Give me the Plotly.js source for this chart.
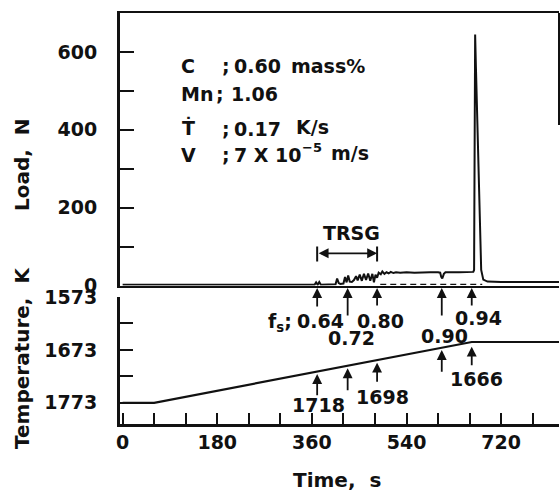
<!DOCTYPE html>
<html><head><meta charset="utf-8">
<script src="https://cdn.plot.ly/plotly-3.0.1.min.js"></script>
<style>html,body{margin:0;padding:0;background:#fff;} #chart{width:560px;height:493px;}</style>
</head><body><div id="chart"></div>
<script>
// ---- data ----
const loadTime  = [0, 365, 368, 371, 374, 377, 405, 408, 411, 414, 420, 423, 426, 429, 432, 436, 440, 444, 447, 451, 455, 459, 463, 467, 471, 475, 478, 481, 484, 487, 491, 494, 498, 502, 506, 510, 515, 520, 528, 540, 555, 570, 585, 600, 604, 606, 608, 611, 614, 640, 667, 668.5, 670.5, 672, 678, 682, 686, 694, 720, 830];
const loadValue = [2, 2, 8, 2, 9, 2, 3, 18, 6, 4, 5, 22, 8, 26, 10, 9, 14, 24, 13, 28, 12, 30, 14, 31, 12, 30, 8, 28, 20, 33, 29, 36, 30, 34, 31, 35, 32, 34, 33, 34, 33, 34, 34, 34, 33, 22, 18, 30, 34, 34, 35, 40, 645, 560, 250, 40, 15, 10, 9, 9];
const tempTime  = [0, 60, 664, 830];
const tempValue = [1773, 1773, 1658, 1658];
const dashTime  = [490, 684];
const dashLoad  = [3, 3];

const fsTimes   = [370, 428, 484, 607, 664];
const fsLabels  = ['0.64', '0.72', '0.80', '0.90', '0.94'];
const tempLabelTimes = [370, 484, 664];
const tempLabels = ['1718', '1698', '1666'];

const loadTicks = [0, 100, 200, 300, 400, 500, 600];
const loadTickText = ['0', '', '200', '', '400', '', '600'];
const tempTicks = [1573, 1623, 1673, 1723, 1773];
const tempTickText = ['1573', '', '1673', '', '1773'];
const timeTicks = [0, 60, 120, 180, 240, 300, 360, 420, 480, 540, 600, 660, 720, 780];
const timeTickText = ['0', '', '', '180', '', '', '360', '', '', '540', '', '', '720', ''];

// ---- layout helpers (pixel -> paper) ----
const L = 120, R = 1, T = 13, B = 69, W = 560, H = 493;
const PW = W - L - R, PH = H - T - B;
const PX = x => (x - L) / PW;
const PY = y => (H - B - y) / PH;

const INK = '#111';
const FONT = {family: 'DejaVu Sans', size: 19, color: INK, weight: 'bold'};
const f = (s) => Object.assign({}, FONT, s ? {size: s} : {});

const ann = [];
function txt(text, x, y, xanchor, size, extra) {
  ann.push(Object.assign({text: text, x: PX(x), y: PY(y), xref: 'paper', yref: 'paper',
    xanchor: xanchor || 'center', yanchor: 'middle', showarrow: false, font: f(size)}, extra || {}));
}

// axis titles
txt('Load,  N', 22, 165, 'center', 20, {textangle: -90});
txt('Temperature,  K', 22, 358, 'center', 20, {textangle: -90});
txt('Time,  s', 337, 480, 'center', 20);

// composition block
txt('C', 179, 66, 'left');
txt(';', 226, 66, 'center');
txt('0.60', 232, 66, 'left');
txt('mass%', 289, 66, 'left');
txt('Mn', 179, 94, 'left');
txt(';', 220, 94, 'center');
txt('1.06', 229, 94, 'left');
txt('\u1E6A', 180, 127, 'left');
txt(';', 226, 129, 'center');
txt('0.17', 232, 129, 'left');
txt('K/s', 294, 127, 'left');
txt('V', 179, 155, 'left');
txt(';', 226, 155, 'center');
txt('7 X 10', 232, 155, 'left');
txt('\u22125', 300, 147, 'left', 13);
txt('m/s', 329, 153, 'left');

// TRSG
txt('TRSG', 351, 233, 'center');

// fs labels
txt('f<sub>s</sub>;', 266, 322, 'left');
const fsLabelPos = [[320, 321], [351, 338], [380, 321], [444, 336], [478, 318]];
fsLabels.forEach((s, i) => txt(s, fsLabelPos[i][0], fsLabelPos[i][1], 'center'));
const tempLabelPos = [[318, 405], [382, 397], [476, 379]];
tempLabels.forEach((s, i) => txt(s, tempLabelPos[i][0], tempLabelPos[i][1], 'center'));

// arrows: upper (solid fraction) and lower (temperature)
const arrowStyle = {text: '', showarrow: true, arrowhead: 2, arrowsize: 1.1, arrowwidth: 1.8,
  arrowcolor: INK, standoff: 0, startstandoff: 0, ax: 0};
const upTail = [308, 317, 307, 317, 307];
const tempTip = [374, 368.3, 362.7, 350, 346.7];
const tempTail = [396.7, 391.7, 383.3, 373.3, 366.7];
fsTimes.forEach((t, i) => {
  ann.push(Object.assign({}, arrowStyle, {x: t, xref: 'x', y: PY(288), yref: 'paper', ay: upTail[i] - 288}));
  ann.push(Object.assign({}, arrowStyle, {x: t, xref: 'x', y: PY(tempTip[i]), yref: 'paper', ay: tempTail[i] - tempTip[i]}));
});
// TRSG double arrow
ann.push({text: '', showarrow: true, arrowhead: 2, arrowsize: 1.1, arrowwidth: 1.8, arrowcolor: INK,
  arrowside: 'end+start', standoff: 0, startstandoff: 0,
  x: fsTimes[2], xref: 'x2', y: PY(253.3), yref: 'paper', ax: fsTimes[0], axref: 'x2', ay: 0});

const shapes = [
  {type: 'line', xref: 'x2', yref: 'paper', x0: fsTimes[0], x1: fsTimes[0], y0: PY(246.5), y1: PY(261.5), line: {color: INK, width: 2}},
  {type: 'line', xref: 'x2', yref: 'paper', x0: fsTimes[2], x1: fsTimes[2], y0: PY(246.5), y1: PY(261.5), line: {color: INK, width: 2}},
  {type: 'line', xref: 'paper', yref: 'paper', x0: 1, x1: 1, y0: PY(125), y1: 1, line: {color: INK, width: 2}}
];

const traces = [
  {x: loadTime, y: loadValue, xaxis: 'x2', yaxis: 'y', type: 'scatter', mode: 'lines',
   line: {color: INK, width: 2}, hoverinfo: 'skip'},
  {x: dashTime, y: dashLoad, xaxis: 'x2', yaxis: 'y', type: 'scatter', mode: 'lines',
   line: {color: INK, width: 1.3, dash: '6px,4px'}, hoverinfo: 'skip'},
  {x: tempTime, y: tempValue, xaxis: 'x', yaxis: 'y2', type: 'scatter', mode: 'lines',
   line: {color: INK, width: 2.2}, hoverinfo: 'skip'}
];

const topDomain = [PY(285.5), 1];
const botDomain = [0, PY(297)];

const layout = {
  width: W, height: H,
  margin: {l: L, r: R, t: T, b: B, pad: 0},
  paper_bgcolor: '#fff', plot_bgcolor: '#fff',
  showlegend: false,
  font: FONT,
  xaxis: {domain: [0, 1], anchor: 'y2', range: [-5, 830], showgrid: false, zeroline: false,
    showline: true, linecolor: INK, linewidth: 2.5, ticks: 'inside', ticklen: 11, tickwidth: 2, tickcolor: INK,
    tickmode: 'array', tickvals: timeTicks, ticktext: timeTickText, tickfont: f(19), ticklabelstandoff: 0},
  xaxis2: {domain: [0, 1], anchor: 'y', matches: 'x', range: [-5, 830], showgrid: false, zeroline: false,
    showline: true, mirror: true, linecolor: INK, linewidth: 2.5, ticks: '', showticklabels: false},
  yaxis: {domain: topDomain, anchor: 'x2', range: [0, 700], showgrid: false, zeroline: false,
    showline: true, linecolor: INK, linewidth: 3, ticks: 'inside', ticklen: 14, tickwidth: 2, tickcolor: INK,
    tickmode: 'array', tickvals: loadTicks, ticktext: loadTickText, tickfont: f(19), ticklabelstandoff: 16},
  yaxis2: {domain: botDomain, anchor: 'x', range: [1813, 1573], showgrid: false, zeroline: false,
    showline: true, linecolor: INK, linewidth: 3, ticks: 'inside', ticklen: 13, tickwidth: 2, tickcolor: INK,
    tickmode: 'array', tickvals: tempTicks, ticktext: tempTickText, tickfont: f(19), ticklabelstandoff: 16},
  annotations: ann,
  shapes: shapes
};

Plotly.newPlot('chart', traces, layout, {displayModeBar: false, staticPlot: true});
</script>
</body></html>
